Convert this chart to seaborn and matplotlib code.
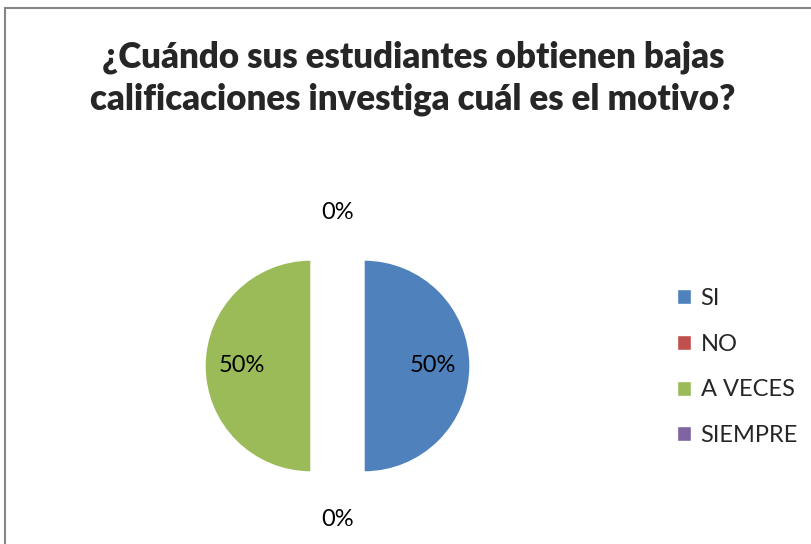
import numpy as np
import pandas as pd
import seaborn as sns
import matplotlib.pyplot as plt
from matplotlib.patches import Rectangle

# data
categories = ['SI', 'NO', 'A VECES', 'SIEMPRE']
values = [50, 0, 50, 0]
colors = ['#4F81BD', '#C0504D', '#9BBB59', '#8064A2']
title = '¿Cuándo sus estudiantes obtienen bajas\ncalificaciones investiga cuál es el motivo?'

sns.set_theme(style='white')
plt.rcParams['font.family'] = ['Lato', 'DejaVu Sans']

W, H = 811, 544
fig = plt.figure(figsize=(W / 100, H / 100), dpi=100)

# gray frame round the chart area
fig.patches.append(Rectangle((5 / W, -0.1), 1.2, (H - 8) / H + 0.1,
                             transform=fig.transFigure, fill=False,
                             edgecolor='#868686', linewidth=1.5))

# pie axes: center at (337, 366), radius ~106 px
r = 106
cx, cy = 337.5, H - 366
lim = 1.6
side = 2 * lim * r
ax = fig.add_axes([(cx - side / 2) / W, (cy - side / 2) / H, side / W, side / H])

explode = [0.25 if v > 0 else 0.8 for v in values]
wedges, texts, autotexts = ax.pie(values, colors=colors, startangle=90, counterclock=False,
                                  explode=explode, autopct='%1.0f%%', pctdistance=0.65,
                                  textprops={'fontsize': 17, 'color': 'black'})
ax.set_xlim(-lim, lim)
ax.set_ylim(-lim, lim)
ax.set_aspect('equal')
ax.axis('off')

fig.text(413 / W, 1 - 78 / H, title, ha='center', va='center', fontsize=25,
         fontweight='heavy', linespacing=1.3)

fig.legend(wedges, categories, loc='center left', bbox_to_anchor=(677 / W, 1 - 367 / H),
           frameon=False, fontsize=17, labelspacing=1.05, handlelength=0.6,
           handleheight=0.6, handletextpad=0.4, borderpad=0, borderaxespad=0)

fig.savefig('out.png', dpi=100)
